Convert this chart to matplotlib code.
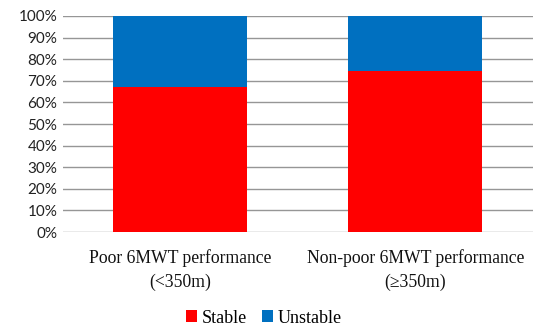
import matplotlib
matplotlib.use("Agg")
import matplotlib.pyplot as plt
from matplotlib.ticker import FuncFormatter, MultipleLocator

categories = ["Poor 6MWT performance\n(<350m)", "Non-poor 6MWT performance\n(≥350m)"]
stable = [67, 74.5]
unstable = [33, 25.5]
series_names = ["Stable", "Unstable"]
colors = ["#FF0000", "#0070C0"]

fig = plt.figure(figsize=(5.5, 3.33), dpi=100)
ax = fig.add_axes([0.1145, 0.303, 0.8545, 0.649])

x = range(len(categories))
ax.bar(x, stable, width=0.57, color=colors[0], label=series_names[0], zorder=3)
ax.bar(x, unstable, width=0.57, bottom=stable, color=colors[1], label=series_names[1], zorder=3)

ax.set_xlim(-0.5, 1.5)
ax.set_ylim(0, 100)
ax.yaxis.set_major_locator(MultipleLocator(10))
ax.yaxis.set_major_formatter(FuncFormatter(lambda v, p: f"{int(v)}%"))
ax.grid(axis="y", color="#969696", linewidth=1.0, zorder=0)
ax.set_axisbelow(True)
for s in ax.spines.values():
    s.set_visible(False)
ax.tick_params(axis="both", length=0)
ax.tick_params(axis="y", pad=4, labelsize=11)
for lab in ax.get_yticklabels():
    lab.set_fontfamily("Lato")
    lab.set_color("#222222")
ax.set_xticks(list(x))
ax.set_xticklabels(categories, fontfamily="Liberation Serif", fontsize=12.7, color="#111111", linespacing=1.55)
ax.tick_params(axis="x", pad=12)

fig.legend(loc="center", bbox_to_anchor=(0.48, 0.045), ncol=2, frameon=False,
           prop={"family": "Liberation Serif", "size": 13}, handlelength=0.6, handleheight=0.6,
           handletextpad=0.3, columnspacing=0.8)

fig.savefig("out.png", dpi=100)
